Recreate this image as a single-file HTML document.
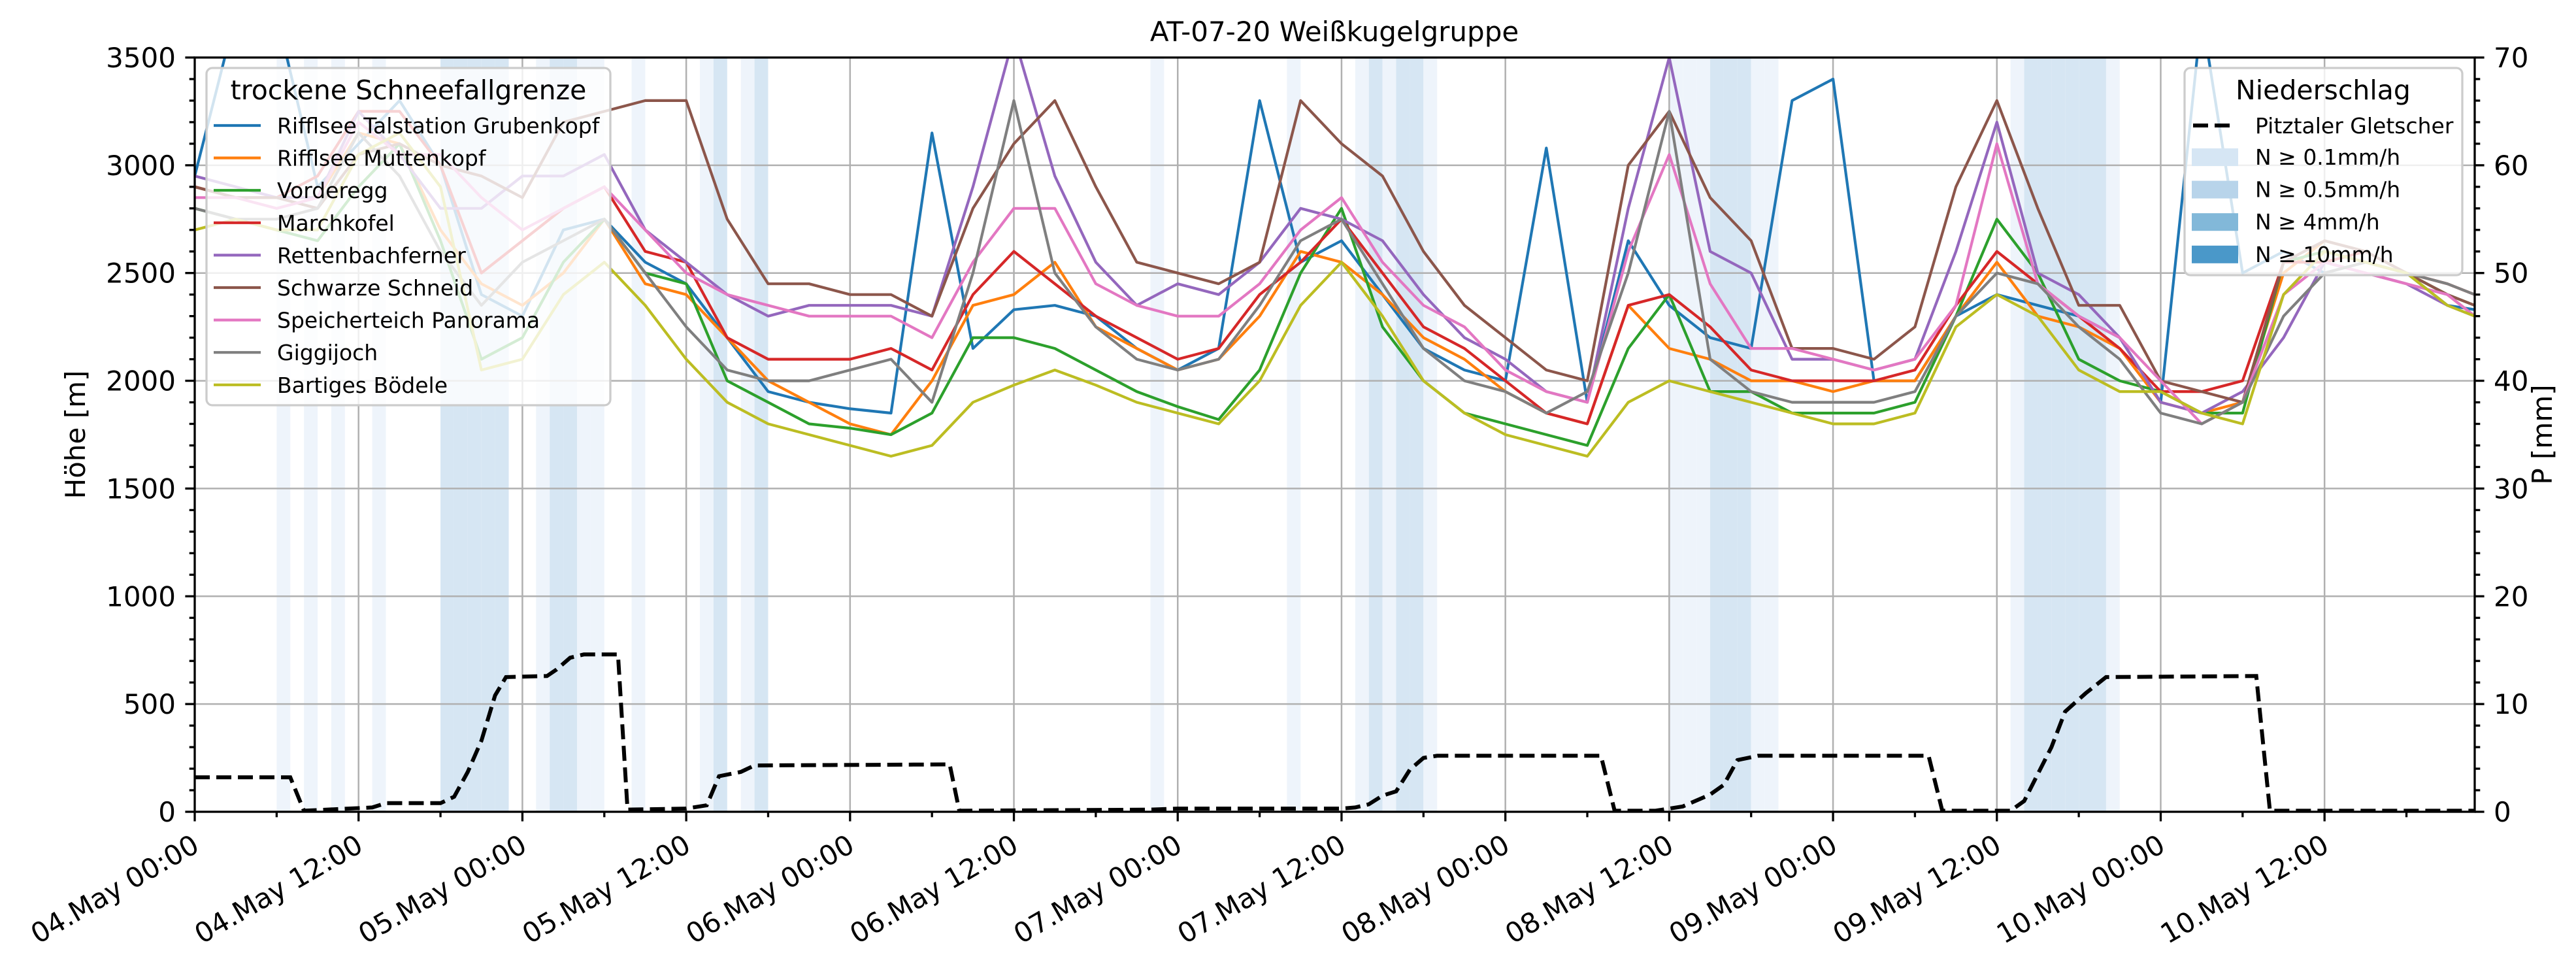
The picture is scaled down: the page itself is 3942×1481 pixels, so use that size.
<!DOCTYPE html>
<html><head><meta charset="utf-8"><style>
html,body{margin:0;padding:0;background:#fff;}
svg{display:block;font-family:"DejaVu Sans","Liberation Sans",sans-serif;}
</style></head><body>
<svg id="chart" xmlns="http://www.w3.org/2000/svg" width="3942" height="1481" viewBox="0 0 3942 1481">
<rect width="3942" height="1481" fill="#fff"/>
<defs><clipPath id="plotclip"><rect x="298" y="88" width="3489" height="1154"/></clipPath></defs>
<g id="bands" clip-path="url(#plotclip)"></g>
<g id="grid"></g>
<g id="series" clip-path="url(#plotclip)"></g>
<g id="precip" clip-path="url(#plotclip)"></g>
<g id="axes"></g>
<text x="2042" y="63" font-size="42" text-anchor="middle">AT-07-20 Weißkugelgruppe</text>
<text transform="translate(130,665) rotate(-90)" font-size="42" text-anchor="middle">Höhe [m]</text>
<text transform="translate(3905,665) rotate(-90)" font-size="42" text-anchor="middle">P [mm]</text>
<g id="legend-left"></g>
<g id="legend-right"></g>
</svg>
<script>
const hours = [0,3,6,9,12,15,18,21,24,27,30,33,36,39,42,45,48,51,54,57,60,63,66,69,72,75,78,81,84,87,90,93,96,99,102,105,108,111,114,117,120,123,126,129,132,135,138,141,144,147,150,153,156,159,162,165,167];
const seriesNames = ["Rifflsee Talstation Grubenkopf","Rifflsee Muttenkopf","Vorderegg","Marchkofel","Rettenbachferner","Schwarze Schneid","Speicherteich Panorama","Giggijoch","Bartiges Bödele"];
const seriesColors = ["#1f77b4","#ff7f0e","#2ca02c","#d62728","#9467bd","#8c564b","#e377c2","#7f7f7f","#bcbd22"];
const grubenkopf = [2950,3700,3700,2900,3100,3300,3000,2400,2300,2700,2750,2550,2450,2200,1950,1900,1870,1850,3150,2150,2330,2350,2300,2150,2050,2150,3300,2550,2650,2400,2150,2050,2000,3080,1900,2650,2350,2200,2150,3300,3400,2000,2000,2300,2400,2350,2300,2200,1900,3700,2500,2600,2500,2550,2500,2350,2330];
const muttenkopf = [2900,2850,2850,2850,3150,3100,2700,2450,2350,2500,2750,2450,2400,2200,2000,1900,1800,1750,2000,2350,2400,2550,2250,2150,2050,2100,2300,2600,2550,2400,2200,2100,1950,1850,1800,2350,2150,2100,2000,2000,1950,2000,2000,2300,2550,2300,2250,2150,1900,1850,1900,2500,2650,2600,2500,2400,2300];
const vorderegg = [2800,2750,2700,2650,2900,3100,2650,2100,2200,2550,2750,2500,2450,2000,1900,1800,1780,1750,1850,2200,2200,2150,2050,1950,1880,1820,2050,2500,2800,2250,2000,1850,1800,1750,1700,2150,2400,1950,1950,1850,1850,1850,1900,2300,2750,2500,2100,2000,1950,1850,1850,2550,2600,2550,2500,2400,2350];
const marchkofel = [2900,2850,2850,2950,3250,3250,3000,2500,2650,2800,2900,2600,2550,2200,2100,2100,2100,2150,2050,2400,2600,2450,2300,2200,2100,2150,2400,2550,2750,2500,2250,2150,2000,1850,1800,2350,2400,2250,2050,2000,2000,2000,2050,2350,2600,2450,2300,2150,1950,1950,2000,2550,2550,2600,2500,2450,2400];
const rettenbach = [2950,2900,2850,2850,3250,3050,2800,2800,2950,2950,3050,2700,2550,2400,2300,2350,2350,2350,2300,2900,3600,2950,2550,2350,2450,2400,2550,2800,2750,2650,2400,2200,2100,1950,1900,2800,3500,2600,2500,2100,2100,2050,2100,2600,3200,2500,2400,2200,1900,1850,1950,2200,2550,2500,2450,2350,2300];
const schwarze = [2900,2850,2850,2800,3050,3100,3000,2950,2850,3200,3250,3300,3300,2750,2450,2450,2400,2400,2300,2800,3100,3300,2900,2550,2500,2450,2550,3300,3100,2950,2600,2350,2200,2050,2000,3000,3250,2850,2650,2150,2150,2100,2250,2900,3300,2800,2350,2350,2000,1950,1900,2550,2650,2600,2500,2400,2350];
const speicher = [2850,2850,2800,2850,3200,3050,3050,2850,2700,2800,2900,2700,2500,2400,2350,2300,2300,2300,2200,2550,2800,2800,2450,2350,2300,2300,2450,2700,2850,2550,2350,2250,2050,1950,1900,2600,3050,2450,2150,2150,2100,2050,2100,2350,3100,2450,2300,2200,2000,1800,1900,2400,2550,2500,2450,2400,2300];
const giggijoch = [2800,2750,2750,2800,3150,2950,2600,2350,2550,2650,2750,2500,2250,2050,2000,2000,2050,2100,1900,2500,3300,2500,2250,2100,2050,2100,2350,2650,2750,2450,2150,2000,1950,1850,1950,2500,3250,2100,1950,1900,1900,1900,1950,2300,2500,2450,2250,2100,1850,1800,1900,2300,2500,2550,2500,2450,2400];
const bartiges = [2700,2750,2700,2700,3050,3150,2900,2050,2100,2400,2550,2350,2100,1900,1800,1750,1700,1650,1700,1900,1980,2050,1980,1900,1850,1800,2000,2350,2550,2300,2000,1850,1750,1700,1650,1900,2000,1950,1900,1850,1800,1800,1850,2250,2400,2300,2050,1950,1950,1850,1800,2400,2600,2550,2500,2350,2300];
const seriesValues = [grubenkopf,muttenkopf,vorderegg,marchkofel,rettenbach,schwarze,speicher,giggijoch,bartiges];
const precipHours = [0,7,8,13,14,18,19,20,21,22,22.8,25.8,26.5,27.5,28.5,31,31.7,36,37.5,38.4,40,41,55.3,56,70,72,84,85,86,87,88,89,90,91,103,104,107,109,111,112,113,114.5,127,128,133,134,135,136,137,138.5,140,151,152,167];
const precipValues = [3.2,3.2,0.1,0.4,0.8,0.8,1.4,3.7,6.6,10.8,12.5,12.6,13.2,14.3,14.6,14.6,0.2,0.3,0.6,3.3,3.7,4.3,4.4,0.1,0.2,0.3,0.3,0.4,0.7,1.5,1.9,3.9,5.0,5.2,5.2,0.1,0.1,0.5,1.6,2.5,4.8,5.2,5.2,0.1,0.1,1.0,3.5,6.0,9.3,11.0,12.5,12.6,0.1,0.1];
const bandHours = [6,8,10,13,18,19,20,21,22,25,26,27,28,29,32,37,38,40,41,70,80,85,86,87,88,89,90,108,109,110,111,112,113,114,115,133,134,135,136,137,138,139,140];
const bandLevels = [1,1,1,1,2,2,2,2,2,1,2,2,1,1,1,1,2,1,2,1,1,1,2,1,2,2,1,1,1,1,2,2,2,1,1,1,2,2,2,2,2,2,1];
const xTickLabels = ["04.May 00:00","04.May 12:00","05.May 00:00","05.May 12:00","06.May 00:00","06.May 12:00","07.May 00:00","07.May 12:00","08.May 00:00","08.May 12:00","09.May 00:00","09.May 12:00","10.May 00:00","10.May 12:00"];
const yTicks = [0,500,1000,1500,2000,2500,3000,3500];
const y2Ticks = [0,10,20,30,40,50,60,70];

const NS = "http://www.w3.org/2000/svg";
const L = 298, R = 3787, T = 88, B = 1242;
const xMax = 167;
function xs(h){ return L + h/xMax*(R-L); }
function ys(v){ return B - v/3500*(B-T); }
function y2s(v){ return B - v/70*(B-T); }
function mk(tag, attrs, parent){ const e=document.createElementNS(NS,tag); for(const k in attrs) e.setAttribute(k,attrs[k]); parent.appendChild(e); return e; }

// bands
const gb = document.getElementById('bands');
const bandColors = ["", "#eef4fb", "#d6e6f3"];
bandHours.forEach((h,i)=>{
  const r = mk('rect',{x:xs(h),y:T,width:xs(h+1)-xs(h),height:B-T,fill:bandColors[bandLevels[i]]},gb);
  
  
});
// grid
const gg = document.getElementById('grid');
for(let i=0;i<xTickLabels.length;i++){
  const x=xs(i*12);
  const l=mk('line',{x1:x,x2:x,y1:T,y2:B,stroke:"#b0b0b0","stroke-width":2.5},gg);
  
  
}
yTicks.forEach(v=>{
  const y=ys(v);
  const l=mk('line',{x1:L,x2:R,y1:y,y2:y,stroke:"#b0b0b0","stroke-width":2.5},gg);
  
  
});
// series
const gs = document.getElementById('series');
seriesValues.forEach((vals,si)=>{
  const d = vals.map((v,i)=>(i?'L':'M')+xs(hours[i]).toFixed(1)+' '+ys(v).toFixed(1)).join(' ');
  const p = mk('path',{d:d,fill:"none",stroke:seriesColors[si],"stroke-width":4.2,"stroke-linejoin":"round"},gs);
  
  
});
// precip
const gp = document.getElementById('precip');
const pd = precipValues.map((v,i)=>(i?'L':'M')+xs(precipHours[i]).toFixed(1)+' '+y2s(v).toFixed(1)).join(' ');
const pp = mk('path',{d:pd,fill:"none",stroke:"#000","stroke-width":6,"stroke-dasharray":"23 10"},gp);


// axes
const ga = document.getElementById('axes');
const frame = mk('rect',{x:L,y:T,width:R-L,height:B-T,fill:"none",stroke:"#000","stroke-width":3.3},ga);


for(let v=0; v<=3500; v+=100){
  const y=ys(v), major = v%500===0;
  mk('line',{x1:L,x2:L-(major?14.6:8.3),y1:y,y2:y,stroke:"#000","stroke-width":3.3},ga);
}
yTicks.forEach(v=>{
  const t=mk('text',{x:L-29,y:ys(v)+15,"font-size":42,"text-anchor":"end"},ga);
  t.textContent=v;
  
  
});
for(let v=0; v<=70; v+=2){
  const y=y2s(v), major = v%10===0;
  mk('line',{x1:R,x2:R+(major?14.6:8.3),y1:y,y2:y,stroke:"#000","stroke-width":3.3},ga);
}
y2Ticks.forEach(v=>{
  const t=mk('text',{x:R+29,y:y2s(v)+15,"font-size":42,"text-anchor":"start"},ga);
  t.textContent=v;
  
  
});
for(let h=0; h<=xMax; h+=6){
  const x=xs(h), major=h%12===0;
  mk('line',{x1:x,x2:x,y1:B,y2:B+(major?14.6:8.3),stroke:"#000","stroke-width":3.3},ga);
}
xTickLabels.forEach((lab,i)=>{
  const x=xs(i*12);
  const t=mk('text',{transform:`translate(${x-6},${1274}) rotate(-30)`,"font-size":42,"text-anchor":"end",dy:"31"},ga);
  t.textContent=lab;
  
  
});
// left legend
const gl = document.getElementById('legend-left');
mk('rect',{x:316,y:104,width:618,height:516,rx:9,fill:"#fff","fill-opacity":0.8,stroke:"#cccccc","stroke-width":3.3},gl);
const lt = mk('text',{x:625,y:152,"font-size":41,"text-anchor":"middle"},gl);
lt.textContent="trockene Schneefallgrenze";
seriesNames.forEach((n,i)=>{
  const y=192+i*49.6;
  const ln=mk('line',{x1:327,x2:399,y1:y,y2:y,stroke:seriesColors[i],"stroke-width":4.2},gl);
  
  
  const t=mk('text',{x:424,y:y+12,"font-size":33},gl);
  t.textContent=n;
  
  
});
// right legend
const gr = document.getElementById('legend-right');
mk('rect',{x:3343,y:104,width:425,height:317,rx:9,fill:"#fff","fill-opacity":0.8,stroke:"#cccccc","stroke-width":3.3},gr);
const rt = mk('text',{x:3555,y:152,"font-size":41,"text-anchor":"middle"},gr);
rt.textContent="Niederschlag";
mk('line',{x1:3356,x2:3422,y1:192,y2:192,stroke:"#000","stroke-width":6,"stroke-dasharray":"23 10"},gr);
const rl0 = mk('text',{x:3451,y:204,"font-size":33},gr);
rl0.textContent="Pitztaler Gletscher";
const patchNames = ["N ≥ 0.1mm/h","N ≥ 0.5mm/h","N ≥ 4mm/h","N ≥ 10mm/h"];
const patchColors = ["#d6e6f4","#b8d4ea","#82b8d9","#4a98c9"];
patchNames.forEach((n,i)=>{
  const y=240+i*49.6;
  const r=mk('rect',{x:3354,y:y-13,width:71,height:27,fill:patchColors[i]},gr);
  
  
  const t=mk('text',{x:3451,y:y+12,"font-size":33},gr);
  t.textContent=n;
  
  
});
</script>
</body></html>
